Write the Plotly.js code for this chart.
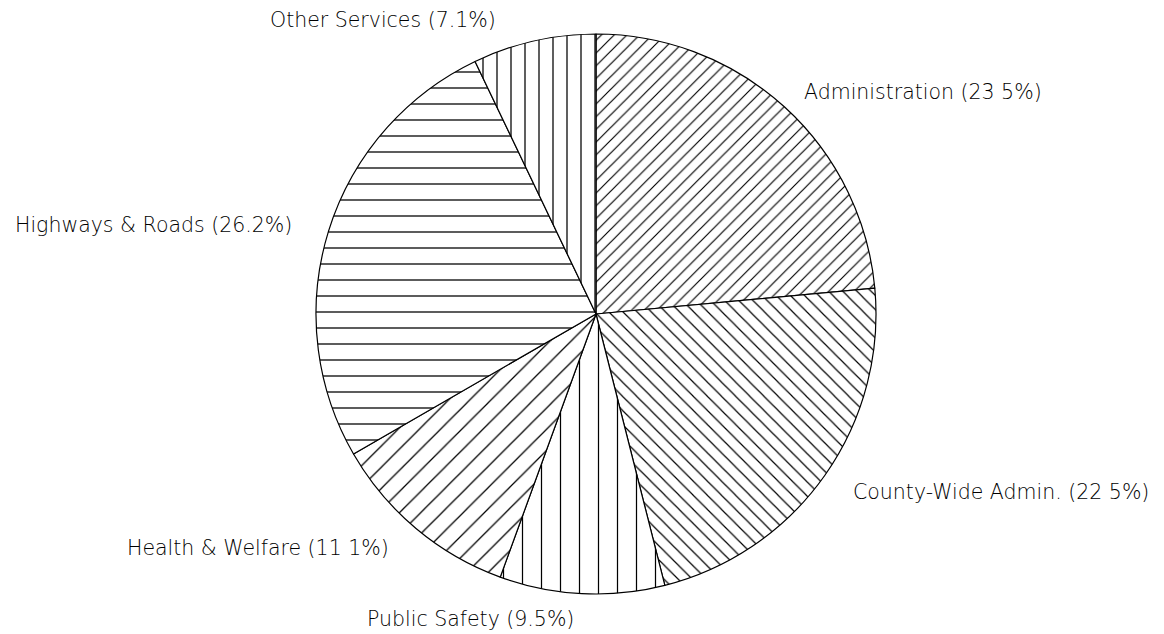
<!DOCTYPE html>
<html>
<head>
<meta charset="utf-8">
<script src="https://cdn.plot.ly/plotly-3.0.1.min.js"></script>
<style>
  html, body { margin: 0; padding: 0; background: #fff; }
  #chart { width: 1164px; height: 634px; }
</style>
</head>
<body>
<div id="chart"></div>
<script>
// ---- data ----
const categories = ["Administration", "County-Wide Admin.", "Public Safety", "Health & Welfare", "Highways & Roads", "Other Services"];
const values = [23.5, 22.5, 9.5, 11.1, 26.2, 7.1];
const shownPercents = ["23 5%", "22 5%", "9.5%", "11 1%", "26.2%", "7.1%"];

// ---- styling ----
const hatchShapes = ["/", "\\", "|", "/", "-", "|"];
const hatchSizes = [9, 10, 19, 15, 16, 14];
const hatchSolidity = [0.13, 0.12, 0.065, 0.085, 0.08, 0.09];
// label centres in page pixels (layout only)
const labelPx = [[923, 92], [1001, 492], [470, 619], [258, 548], [153, 225], [383, 20]];

const W = 1164, H = 634;
const cx = 596, cy = 314, R = 280;

const labelTexts = categories.map((c, i) => c + " (" + shownPercents[i] + ")");

const trace = {
  type: "pie",
  labels: categories,
  values: values,
  sort: false,
  direction: "clockwise",
  rotation: 0,
  textinfo: "none",
  hoverinfo: "label+value",
  showlegend: false,
  domain: {
    x: [(cx - 350) / W, (cx + 350) / W],
    y: [1 - (cy + R) / H, 1 - (cy - R) / H]
  },
  marker: {
    colors: categories.map(() => "#ffffff"),
    line: { color: "#000000", width: 1.2 },
    pattern: {
      shape: hatchShapes,
      size: hatchSizes,
      solidity: hatchSolidity,
      fgcolor: "#000000",
      bgcolor: "#ffffff",
      fillmode: "replace"
    }
  }
};

const annotations = labelTexts.map((t, i) => ({
  text: t,
  xref: "paper", yref: "paper",
  x: labelPx[i][0] / W,
  y: 1 - labelPx[i][1] / H,
  xanchor: "center", yanchor: "middle",
  showarrow: false,
  font: { family: "DejaVu Sans, sans-serif", size: 20.5, color: "#000000", weight: 300 }
}));

const layout = {
  width: W, height: H,
  margin: { l: 0, r: 0, t: 0, b: 0 },
  paper_bgcolor: "#ffffff",
  plot_bgcolor: "#ffffff",
  annotations: annotations
};

Plotly.newPlot("chart", [trace], layout, { displayModeBar: false, staticPlot: true });
</script>
</body>
</html>
